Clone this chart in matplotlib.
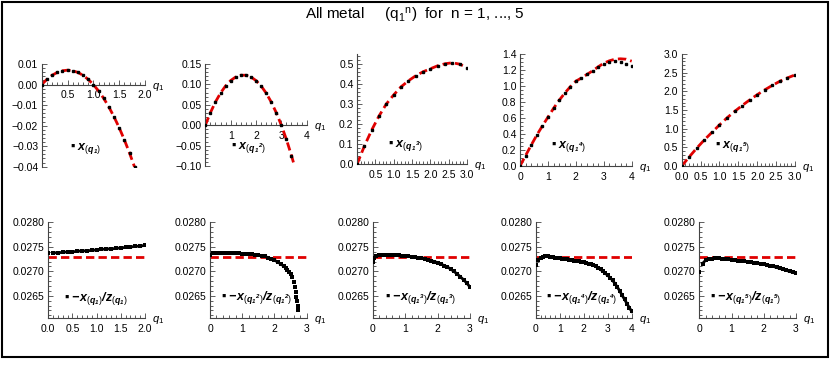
import matplotlib
matplotlib.use('Agg')
import matplotlib.pyplot as plt
from matplotlib.patches import Rectangle
from matplotlib.ticker import MultipleLocator, FuncFormatter

plt.rcParams['font.family'] = ['Liberation Sans', 'DejaVu Sans']
plt.rcParams['mathtext.fontset'] = 'custom'
plt.rcParams['mathtext.rm'] = 'Liberation Sans'
plt.rcParams['mathtext.it'] = 'Liberation Sans:italic'
plt.rcParams['mathtext.bf'] = 'Liberation Sans:italic:bold'

# ---- top row: x_(q1^n) ----
q_top1 = [0, 0.1, 0.2, 0.3, 0.4, 0.5, 0.6, 0.7, 0.8, 0.9, 1.0, 1.1, 1.2, 1.3, 1.4, 1.5, 1.6, 1.7, 1.8, 1.85]
x_top1 = [0, 0.0025, 0.0045, 0.0059, 0.0067, 0.0070, 0.0067, 0.0059, 0.0045, 0.0025, 0.0,
          -0.0031, -0.0067, -0.0109, -0.0157, -0.0210, -0.0269, -0.0333, -0.0403, -0.0438]

q_top2 = [0, 0.2, 0.4, 0.6, 0.8, 1.0, 1.2, 1.4, 1.6, 1.8, 2.0, 2.2, 2.4, 2.6, 2.8, 3.0, 3.2, 3.4, 3.6]
x_top2 = [0, 0.0306, 0.0569, 0.0788, 0.0963, 0.1094, 0.1182, 0.1225, 0.1225, 0.1182, 0.1094,
          0.0963, 0.0788, 0.0569, 0.0306, 0.0, -0.0350, -0.0744, -0.1182]

q_top3 = [0, 0.2, 0.4, 0.6, 0.8, 1.0, 1.2, 1.4, 1.6, 1.8, 2.0, 2.2, 2.4, 2.6, 2.8, 3.0]
x_top3 = [0, 0.09, 0.17, 0.24, 0.30, 0.345, 0.385, 0.415, 0.44, 0.46, 0.475, 0.49, 0.50, 0.505, 0.498, 0.48]

q_top4 = [0, 0.2, 0.4, 0.6, 0.8, 1.0, 1.2, 1.4, 1.6, 1.8, 2.0, 2.2, 2.4, 2.6, 2.8, 3.0, 3.2, 3.4, 3.6, 3.8, 4.0]
x_top4 = [0, 0.13, 0.26, 0.385, 0.50, 0.61, 0.72, 0.82, 0.91, 0.99, 1.06, 1.10, 1.145, 1.19, 1.235,
          1.27, 1.30, 1.31, 1.30, 1.28, 1.25]
fit_top4 = [0, 0.13, 0.26, 0.385, 0.50, 0.61, 0.72, 0.82, 0.91, 0.99, 1.06, 1.10, 1.145, 1.19, 1.24,
            1.285, 1.315, 1.335, 1.34, 1.335, 1.31]

q_top5 = [0, 0.2, 0.4, 0.6, 0.8, 1.0, 1.2, 1.4, 1.6, 1.8, 2.0, 2.2, 2.4, 2.6, 2.8, 3.0]
x_top5 = [0, 0.245, 0.48, 0.70, 0.90, 1.10, 1.29, 1.46, 1.62, 1.77, 1.91, 2.04, 2.16, 2.27, 2.36, 2.44]

# ---- bottom row: -x/z ----
q_b1 = [0, 0.1, 0.2, 0.3, 0.4, 0.5, 0.6, 0.7, 0.8, 0.9, 1.0, 1.1, 1.2, 1.3, 1.4, 1.5, 1.6, 1.7, 1.8, 1.9, 2.0]
r_b1 = [0.02737, 0.02738, 0.02738, 0.02739, 0.02740, 0.02740, 0.02741, 0.02742, 0.02742, 0.02743, 0.02744,
        0.02745, 0.02746, 0.02746, 0.02747, 0.02748, 0.02749, 0.02750, 0.02751, 0.02752, 0.02753]

q_b2 = [0, 0.1, 0.2, 0.3, 0.4, 0.5, 0.6, 0.7, 0.8, 0.9, 1.0, 1.1, 1.2, 1.3, 1.4, 1.5, 1.6, 1.7, 1.8, 1.9, 2.0,
        2.1, 2.2, 2.3, 2.35, 2.4, 2.45, 2.5, 2.55, 2.6, 2.63, 2.66, 2.68, 2.70, 2.72, 2.74]
r_b2 = [0.02734, 0.02737, 0.02738, 0.02738, 0.02738, 0.02738, 0.02738, 0.02737, 0.02737, 0.02737, 0.02736,
        0.02736, 0.02735, 0.02735, 0.02734, 0.02733, 0.02732, 0.02731, 0.02728, 0.02726, 0.02723,
        0.02719, 0.02715, 0.02710, 0.02707, 0.02703, 0.02699, 0.02695, 0.02688, 0.02678, 0.02668,
        0.02657, 0.02648, 0.02640, 0.02630, 0.02620]

q_b3 = [0, 0.05, 0.1, 0.2, 0.3, 0.4, 0.5, 0.6, 0.7, 0.8, 0.9, 1.0, 1.1, 1.2, 1.3, 1.4, 1.5, 1.6, 1.7, 1.8,
        1.9, 2.0, 2.1, 2.2, 2.3, 2.4, 2.5, 2.6, 2.7, 2.8, 2.9, 3.0]
r_b3 = [0.02720, 0.02728, 0.02731, 0.02733, 0.02734, 0.02734, 0.02734, 0.02734, 0.02733, 0.02733, 0.02732,
        0.02732, 0.02731, 0.02730, 0.02729, 0.02728, 0.02727, 0.02726, 0.02724, 0.02722, 0.02720,
        0.02718, 0.02715, 0.02712, 0.02709, 0.02705, 0.02700, 0.02695, 0.02689, 0.02683, 0.02676, 0.02668]

q_b4 = [0, 0.1, 0.2, 0.3, 0.4, 0.5, 0.6, 0.7, 0.8, 0.9, 1.0, 1.1, 1.2, 1.3, 1.4, 1.5, 1.6, 1.7, 1.8, 1.9, 2.0,
        2.1, 2.2, 2.3, 2.4, 2.5, 2.6, 2.7, 2.8, 2.9, 3.0, 3.1, 3.2, 3.3, 3.4, 3.5, 3.6, 3.7, 3.8, 3.9, 4.0]
r_b4 = [0.02713, 0.02723, 0.02728, 0.02730, 0.02731, 0.02731, 0.02730, 0.02729, 0.02728, 0.02727, 0.02727,
        0.02726, 0.02725, 0.02725, 0.02724, 0.02723, 0.02722, 0.02722, 0.02721, 0.02720, 0.02719,
        0.02718, 0.02716, 0.02715, 0.02713, 0.02710, 0.02707, 0.02704, 0.02700, 0.02696, 0.02692,
        0.02687, 0.02682, 0.02675, 0.02668, 0.02660, 0.02651, 0.02643, 0.02634, 0.02626, 0.02618]

q_b5 = [0, 0.1, 0.2, 0.3, 0.4, 0.5, 0.6, 0.7, 0.8, 0.9, 1.0, 1.1, 1.2, 1.3, 1.4, 1.5, 1.6, 1.7, 1.8, 1.9, 2.0,
        2.1, 2.2, 2.3, 2.4, 2.5, 2.6, 2.7, 2.8, 2.9, 3.0]
r_b5 = [0.02699, 0.02716, 0.02723, 0.02725, 0.02726, 0.02727, 0.02727, 0.02726, 0.02725, 0.02725, 0.02724,
        0.02723, 0.02722, 0.02721, 0.02721, 0.02720, 0.02719, 0.02718, 0.02717, 0.02716, 0.02715,
        0.02713, 0.02712, 0.02710, 0.02708, 0.02706, 0.02704, 0.02702, 0.02700, 0.02698, 0.02696]

ratio_limit = 0.0273

sup = ['1', '2', '3', '4', '5']
top_labels = [r'$\mathbf{x}_{(\mathbf{q}_\mathbf{1})}$'] + \
    [r'$\mathbf{x}_{(\mathbf{q}_\mathbf{1}{}^\mathbf{%s})}$' % s for s in sup[1:]]
bot_labels = [r'$\mathbf{-x}_{(\mathbf{q}_\mathbf{1})}\mathbf{/z}_{(\mathbf{q}_\mathbf{1})}$'] + \
    [r'$\mathbf{-x}_{(\mathbf{q}_\mathbf{1}{}^\mathbf{%s})}\mathbf{/z}_{(\mathbf{q}_\mathbf{1}{}^\mathbf{%s})}$' % (s, s)
     for s in sup[1:]]

W, H = 830, 368
fig = plt.figure(figsize=(W / 100, H / 100), dpi=100)


def box(l, r, t, b):
    return [l / W, 1 - b / H, (r - l) / W, (b - t) / H]


def fmt(f):
    return FuncFormatter(lambda v, p: (f % v).replace('-', '\u2212'))


def style(ax, xlim, ylim, xt, yt, xminor, yminor, xf, yf, origin=False):
    ax.set_xlim(*xlim)
    ax.set_ylim(*ylim)
    for s in ['top', 'right']:
        ax.spines[s].set_visible(False)
    ax.spines['left'].set_position(('data', 0))
    if origin:
        ax.spines['bottom'].set_position(('data', 0))
    for s in ['left', 'bottom']:
        ax.spines[s].set_color('#444444')
        ax.spines[s].set_linewidth(0.8)
    ax.set_xticks(xt)
    ax.set_yticks(yt)
    ax.xaxis.set_minor_locator(MultipleLocator(xminor))
    ax.yaxis.set_minor_locator(MultipleLocator(yminor))
    ax.xaxis.set_major_formatter(fmt(xf))
    ax.yaxis.set_major_formatter(fmt(yf))
    ax.tick_params(which='both', direction='in', width=0.6, color='#444444', labelsize=7.5)
    ax.tick_params(which='major', length=3.5, pad=2.5)
    ax.tick_params(which='minor', length=2)
    ax.tick_params(axis='x', pad=4)
    ax.patch.set_alpha(0)
    y0 = 0 if origin else ylim[0]
    ax.annotate(r'$q_1$', xy=(xlim[1], y0), xytext=(5, -1.5), textcoords='offset points',
                ha='left', va='center', fontsize=8, annotation_clip=False)


# top row
top_specs = [
    (box(41.7, 145, 64, 166.7), q_top1, x_top1, x_top1, (0, 2), (-0.04, 0.01),
     [0.5, 1.0, 1.5, 2.0], [-0.04, -0.03, -0.02, -0.01, 0, 0.01], 0.1, 0.002, '%.1f', '%.2f', True, (0.274, 0.18)),
    (box(205.3, 306.7, 64, 166), q_top2, x_top2, x_top2, (0, 4), (-0.10, 0.15),
     [1, 2, 3, 4], [-0.10, -0.05, 0, 0.05, 0.10, 0.15], 0.2, 0.01, '%d', '%.2f', True, (0.256, 0.186)),
    (box(357, 467, 53.7, 164.3), q_top3, x_top3, x_top3, (0, 3), (0, 0.55),
     [0.5, 1.0, 1.5, 2.0, 2.5, 3.0], [0, 0.1, 0.2, 0.3, 0.4, 0.5], 0.1, 0.02, '%.1f', '%.1f', False, (0.28, 0.174)),
    (box(520, 631.7, 54, 166), q_top4, x_top4, fit_top4, (0, 4), (0, 1.4),
     [0, 1, 2, 3, 4], [0, 0.2, 0.4, 0.6, 0.8, 1.0, 1.2, 1.4], 0.2, 0.05, '%d', '%.1f', False, (0.28, 0.17)),
    (box(681.7, 795, 54, 166), q_top5, x_top5, x_top5, (0, 3), (0, 3.0),
     [0, 0.5, 1.0, 1.5, 2.0, 2.5, 3.0], [0, 0.5, 1.0, 1.5, 2.0, 2.5, 3.0], 0.1, 0.1, '%.1f', '%.1f', False, (0.29, 0.17)),
]

for i, (pos, q, xv, fitv, xl, yl, xt, yt, xm, ym, xf, yf, org, lab) in enumerate(top_specs):
    ax = fig.add_axes(pos)
    ax.plot(q, fitv, color='#e00000', lw=2.0, ls=(0, (3, 1.5)), zorder=2, clip_on=True)
    ax.plot(q, xv, ls='none', marker='s', ms=1.8, color='black', zorder=3, clip_on=True)
    style(ax, xl, yl, xt, yt, xm, ym, xf, yf, origin=org)
    ax.text(lab[0], lab[1], '\u25aa ' + top_labels[i], transform=ax.transAxes,
            ha='left', va='center', fontsize=9)

# bottom row (last field: how many points are dense enough to look like a line)
bot_specs = [
    (box(48.3, 145, 222, 318.3), q_b1, r_b1, (0, 2), [0, 0.5, 1.0, 1.5, 2.0], 0.1, '%.1f', (0.16, 0.21), None),
    (box(210, 306.7, 222, 318.3), q_b2, r_b2, (0, 3), [0, 1, 2, 3], 0.2, '%d', (0.11, 0.22), 29),
    (box(372.7, 470, 222, 318.3), q_b3, r_b3, (0, 3), [0, 1, 2, 3], 0.2, '%d', (0.126, 0.22), None),
    (box(535.7, 631.7, 222, 318.3), q_b4, r_b4, (0, 4), [0, 1, 2, 3, 4], 0.2, '%d', (0.107, 0.22), None),
    (box(699.3, 796, 222, 318.3), q_b5, r_b5, (0, 3), [0, 1, 2, 3], 0.2, '%d', (0.11, 0.22), None),
]

for i, (pos, q, rv, xl, xt, xm, xf, lab, cut) in enumerate(bot_specs):
    ax = fig.add_axes(pos)
    ax.plot([xl[0], xl[1]], [ratio_limit, ratio_limit], color='#e00000', lw=2.0,
            ls=(0, (3, 1.5)), zorder=2)
    ax.plot(q[1:cut], rv[1:cut], color='black', lw=2.0, zorder=3, clip_on=True)
    ax.plot(q, rv, ls='none', marker='s', ms=2.2, mew=0, color='black', zorder=3, clip_on=True)
    style(ax, xl, (0.02604, 0.02801), xt, [0.0265, 0.0270, 0.0275, 0.0280], xm, 0.0001, xf, '%.4f')
    ax.text(lab[0], lab[1], '\u25aa ' + bot_labels[i], transform=ax.transAxes,
            ha='left', va='center', fontsize=9)

fig.text(0.5, 1 - 15 / H, r'All metal     ($\mathrm{q}_\mathrm{1}{}^\mathrm{n}$)  for  n = 1, ..., 5',
         ha='center', va='center', fontsize=11)

fig.add_artist(Rectangle((2 / W, 1 - 357 / H), 826 / W, 355 / H, transform=fig.transFigure,
                         fill=False, edgecolor='black', lw=1.5))

fig.savefig('out.png', dpi=100)
